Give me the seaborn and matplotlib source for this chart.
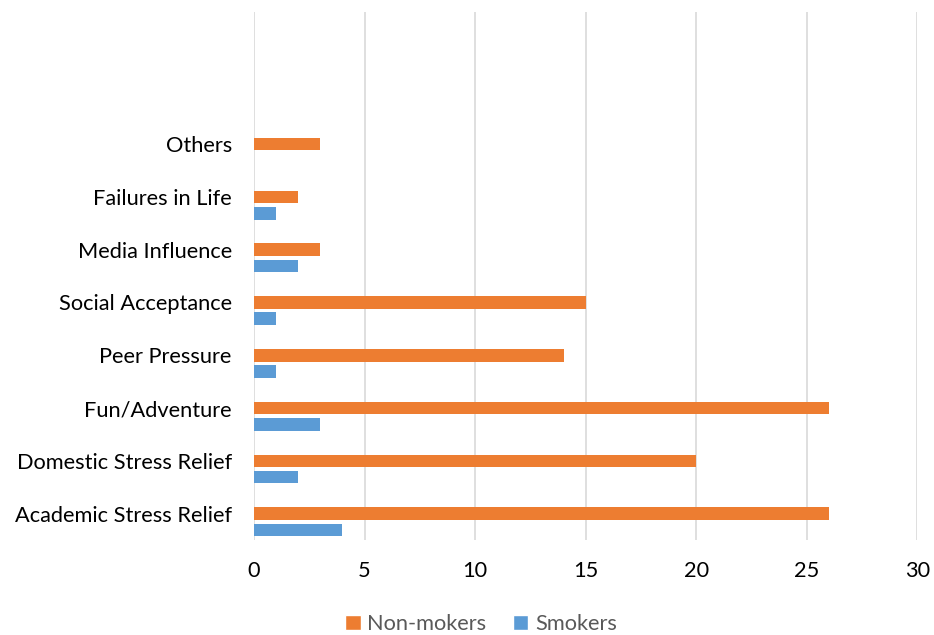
import matplotlib
matplotlib.use("Agg")
import matplotlib.pyplot as plt
from matplotlib.patches import Patch
import seaborn as sns
import pandas as pd

categories = ["Others", "Failures in Life", "Media Influence", "Social Acceptance",
              "Peer Pressure", "Fun/Adventure", "Domestic Stress Relief",
              "Academic Stress Relief"]
non_smokers = [3, 2, 3, 15, 14, 26, 20, 26]
smokers = [0, 1, 2, 1, 1, 3, 2, 4]
series_names = ["Non-mokers", "Smokers"]
x_ticks = [0, 5, 10, 15, 20, 25, 30]

ORANGE = "#ED7D31"
BLUE = "#5B9BD5"

rows = []
for c, ns, s in zip(categories, non_smokers, smokers):
    rows.append({"reason": c, "series": "_blank", "count": 0})
    rows.append({"reason": c, "series": series_names[0], "count": ns})
    rows.append({"reason": c, "series": series_names[1], "count": s})
df = pd.DataFrame(rows)

sns.set_theme(style="white")
plt.rcParams["font.family"] = ["Lato", "DejaVu Sans"]

fig = plt.figure(figsize=(9.34, 6.35), dpi=100)
ax = fig.add_axes([0.272, 0.1496, 0.982 - 0.272, 0.981 - 0.1496])

sns.barplot(data=df, y="reason", x="count", hue="series", order=categories,
            hue_order=["_blank"] + series_names,
            palette={"_blank": "white", series_names[0]: ORANGE, series_names[1]: BLUE},
            orient="h", width=0.93, gap=0.23, linewidth=0, errorbar=None,
            saturation=1, legend=False, ax=ax)

ax.set_ylim(len(categories) - 0.5, -2.5)
ax.set_xlim(0, 30)
ax.set_xticks(x_ticks)
ax.set_xticklabels([str(t) for t in x_ticks])
ax.grid(axis="x", color="#d9d9d9", linewidth=1.2)
ax.set_axisbelow(True)
for side in ["top", "right", "bottom", "left"]:
    ax.spines[side].set_visible(False)
ax.set_xlabel("")
ax.set_ylabel("")
ax.tick_params(axis="y", length=0, pad=16, labelsize=15.7, labelcolor="#000000")
ax.tick_params(axis="x", length=0, pad=15, labelsize=15.7, labelcolor="#000000")

handles = [Patch(facecolor=ORANGE, label=series_names[0]),
           Patch(facecolor=BLUE, label=series_names[1])]
fig.legend(handles=handles, loc="center", bbox_to_anchor=(0.515, 0.017),
           ncol=2, frameon=False, fontsize=15.7, labelcolor="#595959",
           handlelength=0.72, handleheight=0.72, handletextpad=0.3,
           columnspacing=1.2)

fig.savefig("out.png", dpi=100, facecolor="white")
